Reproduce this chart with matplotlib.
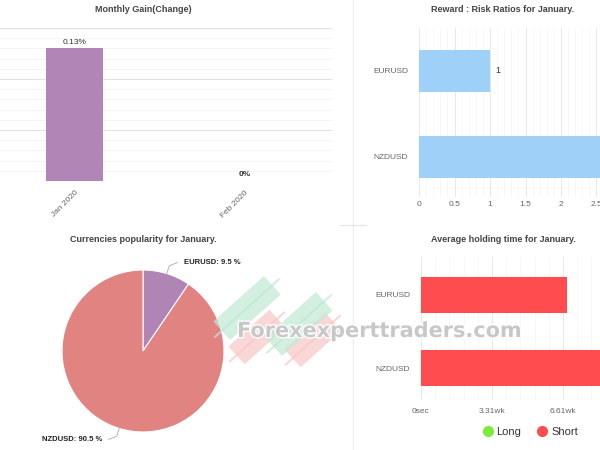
import numpy as np
import matplotlib
matplotlib.use("Agg")
import matplotlib.pyplot as plt
from matplotlib.ticker import MultipleLocator, FuncFormatter, FixedLocator
from matplotlib.lines import Line2D
from matplotlib.patches import Polygon
import matplotlib.patheffects as pe

plt.rcParams['font.family'] = ['Liberation Sans', 'DejaVu Sans']

# ---- data ----
months = ["Jan 2020", "Feb 2020"]
monthly_gain = [0.13, 0.0]
monthly_labels = ["0.13%", "0%"]

rr_symbols = ["EURUSD", "NZDUSD"]
rr_values = [1.0, 3.0]
rr_ticks = [0, 0.5, 1, 1.5, 2, 2.5]

pop_symbols = ["EURUSD", "NZDUSD"]
pop_values = [9.5, 90.5]

hold_symbols = ["EURUSD", "NZDUSD"]
hold_short_sec = [4.1e6, 6.2e6]
hold_long_sec = [0.0, 0.0]
hold_ticks = [0, 2e6, 4e6]

W, H = 600, 450
fig = plt.figure(figsize=(6, 4.5), dpi=100)
fig.patch.set_facecolor("white")

def ax_px(l, t, r, b):
    return fig.add_axes([l / W, 1 - b / H, (r - l) / W, (b - t) / H])

def fx(x): return x / W
def fy(y): return 1 - y / H

TITLE_C = "#444444"
TICK_C = "#666666"

def clean(ax):
    for s in ax.spines.values():
        s.set_visible(False)
    ax.tick_params(length=0, colors=TICK_C, labelsize=6)

# ---- panel 1: Monthly gain ----
ax1 = ax_px(0, 28, 332, 181)
clean(ax1)
x1 = np.arange(len(months))
ax1.bar(x1, monthly_gain, width=0.335, color="#B185B5", zorder=3)
ax1.set_xlim(-0.441, 1.512)
ax1.set_ylim(0, 0.15)
ax1.yaxis.set_major_locator(MultipleLocator(0.05))
ax1.yaxis.set_minor_locator(MultipleLocator(0.01))
ax1.grid(axis="y", which="major", color="#e2e2e2", lw=0.8)
ax1.grid(axis="y", which="minor", color="#f2f2f2", lw=0.6)
ax1.tick_params(axis="y", which="both", length=0, labelleft=False)
ax1.set_xticks(x1)
ax1.set_xticklabels(months, rotation=45, ha="right", rotation_mode="anchor",
                    fontsize=6, color=TICK_C)
ax1.tick_params(axis="x", pad=6)
for xi, v, lab in zip(x1, monthly_gain, monthly_labels):
    ax1.annotate(lab, (xi, v), xytext=(0, 2), textcoords="offset points",
                 ha="center", va="bottom", fontsize=6, color="#333333",
                 fontweight="bold" if v == 0 else "normal")
fig.text(fx(143), fy(10), "Monthly Gain(Change)", ha="center", va="center",
         fontsize=6.5, fontweight="bold", color=TITLE_C)

# ---- panel 2: Reward : Risk ----
ax2 = ax_px(419, 28, 419 + 3 * 71, 197)
clean(ax2)
y2 = np.arange(len(rr_symbols))
ax2.barh(y2, rr_values, height=0.49, color="#9FD0F7", zorder=3)
ax2.set_xlim(0, 3)
ax2.set_ylim(1.47, -0.5)
ax2.xaxis.set_major_locator(FixedLocator(rr_ticks))
ax2.xaxis.set_minor_locator(MultipleLocator(0.1))
ax2.grid(axis="x", which="major", color="#e8e8e8", lw=0.7)
ax2.grid(axis="x", which="minor", color="#f4f4f4", lw=0.5)
ax2.tick_params(axis="x", which="both", length=0, pad=3)
ax2.xaxis.set_major_formatter(FuncFormatter(lambda v, p: f"{v:g}"))
ax2.set_yticks(y2)
ax2.set_yticklabels(rr_symbols)
ax2.tick_params(axis="y", pad=8)
ax2.annotate(f"{rr_values[0]:g}", (rr_values[0], y2[0]), xytext=(4, 0),
             textcoords="offset points", ha="left", va="center",
             fontsize=6.5, color="#333333")
fig.text(fx(503), fy(10), "Reward : Risk Ratios for January.", ha="center",
         va="center", fontsize=6.5, fontweight="bold", color=TITLE_C)

# ---- panel 3: pie ----
ax3 = ax_px(62, 270, 224, 432)
colors3 = ["#B084B5", "#E08381"]
wedges, _ = ax3.pie(pop_values, startangle=90, counterclock=False,
                    colors=colors3, radius=1,
                    wedgeprops=dict(edgecolor="white", linewidth=0.8))
ax3.set_xlim(-1, 1)
ax3.set_ylim(-1, 1)
ax3.set_aspect("equal")
for w, sym, val in zip(wedges, pop_symbols, pop_values):
    ang = np.deg2rad((w.theta1 + w.theta2) / 2)
    cx, cy = np.cos(ang), np.sin(ang)
    side = 1 if cx > 0 else -1
    p0 = (1.0 * cx, 1.0 * cy)
    p1 = (1.1 * cx, 1.1 * cy)
    p2 = (p1[0] + side * 0.1, p1[1] + (0.04 if cy > 0 else -0.04))
    ax3.plot([p0[0], p1[0], p2[0]], [p0[1], p1[1], p2[1]], color="#aaaaaa",
             lw=0.6, clip_on=False)
    ax3.text(p2[0] + side * 0.08, p2[1], f"{sym}: {val:g} %",
             ha="left" if side > 0 else "right", va="center",
             fontsize=5.5, fontweight="bold", color="#222222")
fig.text(fx(143), fy(240), "Currencies popularity for January.", ha="center",
         va="center", fontsize=6.5, fontweight="bold", color=TITLE_C)

# ---- panel 4: holding time ----
ax4 = ax_px(421, 257, 421 + 3 * 71, 400)
clean(ax4)
y4 = np.arange(len(hold_symbols))
ax4.barh(y4, hold_short_sec, height=0.49, color="#FF4D4F", zorder=3)
ax4.set_xlim(0, 6e6)
ax4.set_ylim(1.43, -0.51)
ax4.xaxis.set_major_locator(FixedLocator(hold_ticks))
ax4.xaxis.set_minor_locator(MultipleLocator(4e5))
ax4.grid(axis="x", which="major", color="#e8e8e8", lw=0.7)
ax4.grid(axis="x", which="minor", color="#f4f4f4", lw=0.5)
ax4.tick_params(axis="x", which="both", length=0, pad=6)

def fmt_time(v, p):
    if v == 0:
        return "0sec"
    return f"{v / 604800:.2f}wk"

ax4.xaxis.set_major_formatter(FuncFormatter(fmt_time))
ax4.set_yticks(y4)
ax4.set_yticklabels(hold_symbols)
ax4.tick_params(axis="y", pad=8)
handles = [Line2D([], [], marker="o", ls="none", ms=7, color="#7CEB3C"),
           Line2D([], [], marker="o", ls="none", ms=7, color="#FF4D4F")]
fig.legend(handles, ["Long", "Short"], loc="center", ncol=2,
           bbox_to_anchor=(fx(530), fy(432)), frameon=False, fontsize=8,
           handletextpad=0.3, columnspacing=1.4, handlelength=1.0,
           labelcolor="#333333")
fig.text(fx(503), fy(239), "Average holding time for January.", ha="center",
         va="center", fontsize=6.5, fontweight="bold", color=TITLE_C)

# ---- separators ----
fig.add_artist(Line2D([fx(353), fx(353)], [0, 1], color="#ececec", lw=0.8))
fig.add_artist(Line2D([fx(340), fx(366)], [fy(225), fy(225)], color="#e4e4e4", lw=0.8))

# ---- watermark ----
ov = fig.add_axes([0, 0, 1, 1], zorder=10)
ov.set_xlim(0, W)
ov.set_ylim(H, 0)
ov.axis("off")

def candle(cx, cy, length, width, wick, color, ang_deg=-42):
    a = np.deg2rad(ang_deg)
    u = np.array([np.cos(a), np.sin(a)])
    v = np.array([-np.sin(a), np.cos(a)])
    c = np.array([cx, cy])
    pts = [c + u * length / 2 + v * width / 2, c + u * length / 2 - v * width / 2,
           c - u * length / 2 - v * width / 2, c - u * length / 2 + v * width / 2]
    ov.add_patch(Polygon(pts, closed=True, facecolor=color, edgecolor="none", alpha=0.7))
    e1 = c + u * (length / 2 + wick)
    e2 = c - u * (length / 2 + wick)
    ov.plot([e1[0], e2[0]], [e1[1], e2[1]], color=color, lw=1.5, alpha=0.7,
            solid_capstyle="butt", zorder=0)

candle(257, 337, 55, 24, 10, "#f9c6c6")
candle(313, 340, 55, 24, 10, "#f9c6c6")
candle(247, 308, 68, 25, 10, "#bfe9d4")
candle(299, 324, 68, 25, 10, "#bfe9d4")

ov.text(380, 331, "Forexexperttraders.com", ha="center", va="center",
        fontsize=15, fontweight="bold", color="#c6c6c6", alpha=0.95,
        family="DejaVu Sans",
        path_effects=[pe.withStroke(linewidth=2, foreground="white")])

fig.savefig("out.png", dpi=100, facecolor="white")
